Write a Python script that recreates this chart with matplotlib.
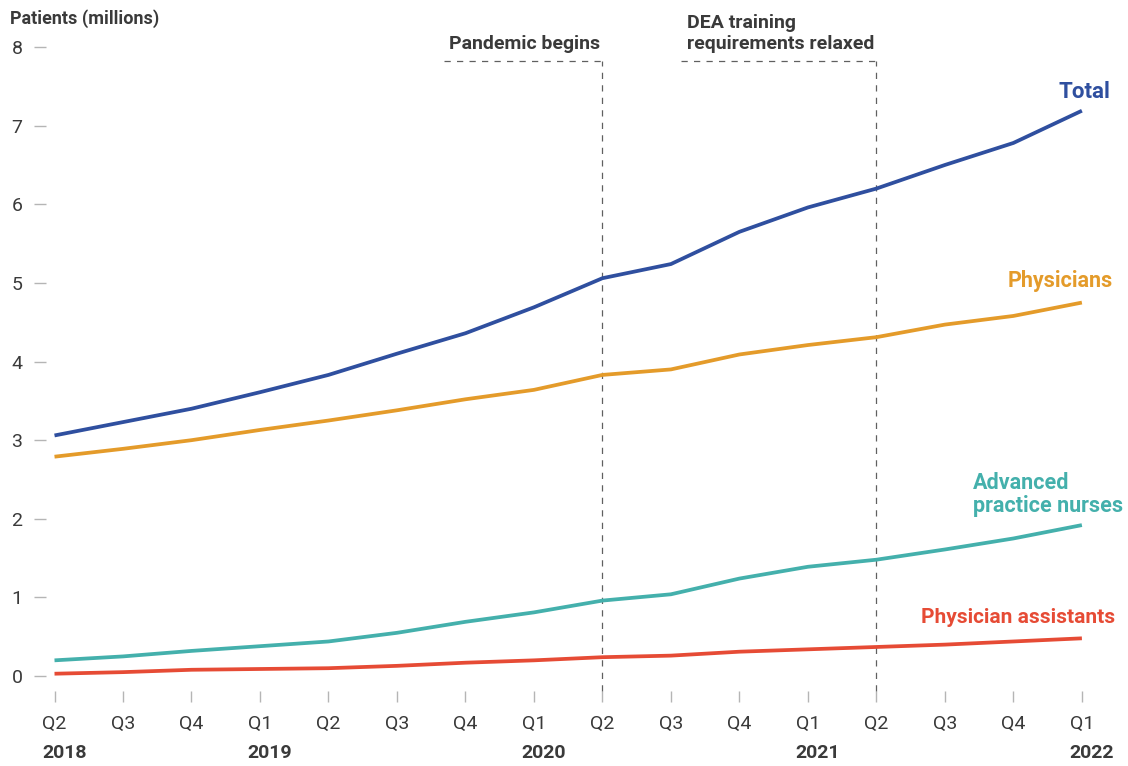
import matplotlib
matplotlib.use("Agg")
import matplotlib.pyplot as plt

plt.rcParams['font.family'] = ['Liberation Sans Narrow', 'Roboto', 'DejaVu Sans']

quarters = ["Q2", "Q3", "Q4", "Q1", "Q2", "Q3", "Q4", "Q1",
            "Q2", "Q3", "Q4", "Q1", "Q2", "Q3", "Q4", "Q1"]
years = ["2018", "2019", "2020", "2021", "2022"]
year_pos = [0, 3, 7, 11, 15]

total = [3.06, 3.23, 3.40, 3.61, 3.83, 4.10, 4.36, 4.69,
         5.06, 5.24, 5.65, 5.96, 6.20, 6.50, 6.78, 7.19]
physicians = [2.79, 2.89, 3.00, 3.13, 3.25, 3.38, 3.52, 3.64,
              3.83, 3.90, 4.09, 4.21, 4.31, 4.47, 4.58, 4.75]
nurses = [0.20, 0.25, 0.32, 0.38, 0.44, 0.55, 0.69, 0.81,
          0.96, 1.04, 1.24, 1.39, 1.48, 1.61, 1.75, 1.92]
assistants = [0.03, 0.05, 0.08, 0.09, 0.10, 0.13, 0.17, 0.20,
              0.24, 0.26, 0.31, 0.34, 0.37, 0.40, 0.44, 0.48]

events = ["Pandemic begins", "DEA training\nrequirements relaxed"]
event_x = [8, 12]

BLUE = "#2f4f9f"
ORANGE = "#e49b2a"
TEAL = "#44b0ac"
RED = "#e64b35"
DARK = "#3a3a3a"
GRAY = "#b5b5b5"

fig = plt.figure(figsize=(11.28, 7.66), dpi=100)
ax = fig.add_axes([0.0408, 0.0979, 0.9335, 0.8407])

x = list(range(len(quarters)))
ax.plot(x, total, color=BLUE, lw=2.7, solid_capstyle='butt', zorder=3)
ax.plot(x, physicians, color=ORANGE, lw=2.7, solid_capstyle='butt', zorder=3)
ax.plot(x, nurses, color=TEAL, lw=2.7, solid_capstyle='butt', zorder=3)
ax.plot(x, assistants, color=RED, lw=2.7, solid_capstyle='butt', zorder=3)

ax.set_xlim(-0.124, 15.25)
ax.set_ylim(-0.19, 8.0)

for sp in ax.spines.values():
    sp.set_visible(False)

ax.set_yticks(range(9))
ax.set_xticks(x)
ax.set_xticklabels(quarters)
ax.tick_params(axis='y', direction='out', length=9, width=1, color=GRAY,
               labelsize=14, labelcolor=DARK, pad=8)
ax.tick_params(axis='x', direction='out', length=8, width=1, color=GRAY,
               labelsize=14, labelcolor=DARK, pad=9)

for yr, pos in zip(years, year_pos):
    ax.annotate(yr, xy=(pos, 0), xycoords=('data', 'axes fraction'),
                xytext=(7, -48), textcoords='offset points',
                ha='center', va='baseline', fontsize=14, fontweight='bold',
                color=DARK)

# event markers: vertical dashed line plus a short dashed rule under the label
dash_top = 7.82
for label, ex, x0 in zip(events, event_x, [5.68, 9.15]):
    ax.plot([ex, ex], [-0.19, dash_top], color="#606060", lw=0.9,
            dashes=(5, 5), clip_on=False, zorder=2)
    ax.plot([x0, ex], [dash_top, dash_top], color="#606060", lw=0.9,
            dashes=(5, 5), clip_on=False, zorder=2)
    ax.text(ex - 0.03, dash_top + 0.10, label, ha='right', va='bottom',
            fontsize=14, fontweight='bold', color=DARK, linespacing=1.25,
            multialignment='left')

ax.text(15.42, 7.35, "Total", ha='right', va='baseline', fontsize=16,
        fontweight='bold', color=BLUE, clip_on=False)
ax.text(15.45, 4.95, "Physicians", ha='right', va='baseline', fontsize=15.5,
        fontweight='bold', color=ORANGE, clip_on=False)
ax.text(13.41, 2.02, "Advanced\npractice nurses", ha='left', va='bottom',
        fontsize=15.5, fontweight='bold', color=TEAL, linespacing=1.1,
        clip_on=False)
ax.text(15.48, 0.67, "Physician assistants", ha='right', va='baseline',
        fontsize=15, fontweight='bold', color=RED, clip_on=False)

fig.text(10 / 1128, 1 - 24 / 766, "Patients (millions)", ha='left',
         va='baseline', fontsize=13, fontweight='bold', color=DARK)

fig.savefig("out.png", dpi=100)
